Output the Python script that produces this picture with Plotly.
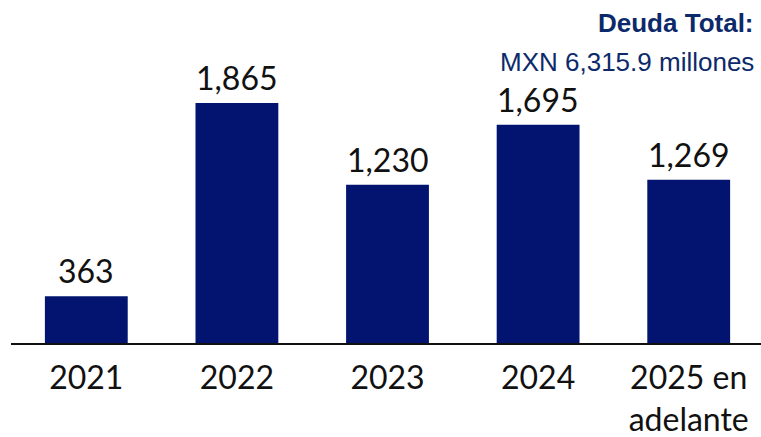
import plotly.graph_objects as go

# Debt maturity profile (MXN millions)
years = ["2021", "2022", "2023", "2024", "2025 en<br>adelante"]
amounts = [363, 1865, 1230, 1695, 1269]
labels = ["363", "1,865", "1,230", "1,695", "1,269"]

title_main = "Deuda Total:"
title_sub = "MXN 6,315.9 millones"

bar_color = "#021470"
title_color = "#0c2a6a"
text_color = "#111111"

fig = go.Figure(
    go.Bar(
        x=years,
        y=amounts,
        marker=dict(color=bar_color, line=dict(width=0)),
        width=0.55,
        cliponaxis=False,
        hoverinfo="skip",
    )
)

# value labels above each bar (category position given by index)
value_notes = [
    dict(
        x=i, y=val, text=lab,
        xref="x", yref="y",
        xanchor="center", yanchor="bottom",
        yshift=4,
        showarrow=False,
        font=dict(family="Lato", size=32, color=text_color),
    )
    for i, (val, lab) in enumerate(zip(amounts, labels))
]

title_notes = [
    dict(
        text="<b>" + title_main + "</b>",
        xref="paper", yref="paper",
        x=(756 - 11) / 750, y=1 - 6 / 343,
        xanchor="right", yanchor="top",
        showarrow=False,
        font=dict(family="Liberation Sans", size=26, color=title_color),
    ),
    dict(
        text=title_sub,
        xref="paper", yref="paper",
        x=(756 - 11) / 750, y=1 - 45 / 343,
        xanchor="right", yanchor="top",
        showarrow=False,
        font=dict(family="Liberation Sans", size=26, color=title_color),
    ),
]

fig.update_layout(
    width=761,
    height=437,
    margin=dict(l=11, r=0, t=0, b=94),
    plot_bgcolor="white",
    paper_bgcolor="white",
    showlegend=False,
    font=dict(family="Lato", size=32, color=text_color),
    xaxis=dict(
        type="category",
        range=[-0.5, 4.48],
        showline=True,
        linecolor=text_color,
        linewidth=2,
        ticks="",
        ticklabelstandoff=6,
        showgrid=False,
        tickfont=dict(family="Lato", size=32, color=text_color),
    ),
    yaxis=dict(
        range=[0, 2665],
        visible=False,
        showgrid=False,
    ),
    annotations=value_notes + title_notes,
)

fig.write_html("out.html")
